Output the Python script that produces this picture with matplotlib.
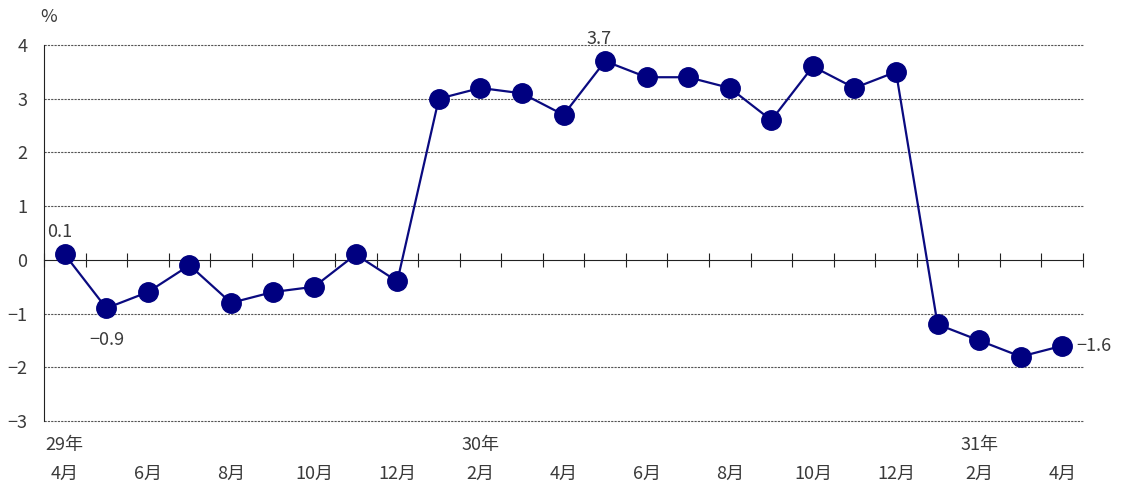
import matplotlib
matplotlib.use("Agg")
import matplotlib.pyplot as plt
import numpy as np

plt.rcParams['font.family'] = ['Noto Sans CJK JP', 'DejaVu Sans']

# 29年4月 ~ 31年4月
values = [0.1, -0.9, -0.6, -0.1, -0.8, -0.6, -0.5, 0.1, -0.4,
          3.0, 3.2, 3.1, 2.7, 3.7, 3.4, 3.4, 3.2, 2.6, 3.6, 3.2, 3.5,
          -1.2, -1.5, -1.8, -1.6]
month_labels = ['4月', '', '6月', '', '8月', '', '10月', '', '12月', '',
                '2月', '', '4月', '', '6月', '', '8月', '', '10月', '', '12月', '',
                '2月', '', '4月']
year_labels = {0: '29年', 10: '30年', 22: '31年'}
yticks = [-3, -2, -1, 0, 1, 2, 3, 4]
# labelled points: index -> position
point_labels = {0: 'above', 1: 'below', 13: 'above', 24: 'right'}

txt = '#3a3a3a'
x = np.arange(len(values))

fig = plt.figure(figsize=(11.23, 4.86), dpi=100)
ax = fig.add_axes([0.0392, 0.1337, 0.9252, 0.7737])

for yv in yticks:
    if yv != 0:
        ax.axhline(yv, color='#555555', lw=0.8, ls=(0, (2, 1)), zorder=1, clip_on=False)

ax.plot(x, values, color='#0a0a80', lw=1.6, marker='o', markersize=14,
        markerfacecolor='#000080', markeredgecolor='#000080', zorder=3)

ax.set_xlim(-0.5, len(values) - 0.5)
ax.set_ylim(-3, 4)
ax.set_yticks(yticks)
ax.set_yticklabels([str(v).replace('-', '−') for v in yticks], color=txt, fontsize=13)
ax.tick_params(axis='y', length=0, pad=12)

for s in ['top', 'right']:
    ax.spines[s].set_visible(False)
ax.spines['left'].set_color('#222222')
ax.spines['bottom'].set_position(('data', 0))
ax.spines['bottom'].set_color('#222222')
ax.set_xticks(np.arange(len(values) + 1) - 0.5)
ax.set_xticklabels([])
ax.tick_params(axis='x', direction='inout', length=10, color='#222222')

tr = ax.get_xaxis_transform()
for i, lab in enumerate(month_labels):
    if lab:
        ax.text(i, -0.14, lab, transform=tr, ha='center', va='center',
                fontsize=13, color=txt)
for i, lab in year_labels.items():
    ax.text(i, -0.065, lab, transform=tr, ha='center', va='center',
            fontsize=13, color=txt)

for i, pos in point_labels.items():
    s = f'{values[i]:.1f}'.replace('-', '−')
    if pos == 'above':
        ax.annotate(s, (i, values[i]), xytext=(-4, 16), textcoords='offset points',
                    ha='center', va='center', fontsize=13, color=txt)
    elif pos == 'below':
        ax.annotate(s, (i, values[i]), xytext=(0, -23), textcoords='offset points',
                    ha='center', va='center', fontsize=13, color=txt)
    else:
        ax.annotate(s, (i, values[i]), xytext=(10, 0), textcoords='offset points',
                    ha='left', va='center', fontsize=13, color=txt)

fig.text(0.036, 0.965, '%', ha='left', va='center', fontsize=13, color=txt)

fig.savefig('out.png', dpi=100)
